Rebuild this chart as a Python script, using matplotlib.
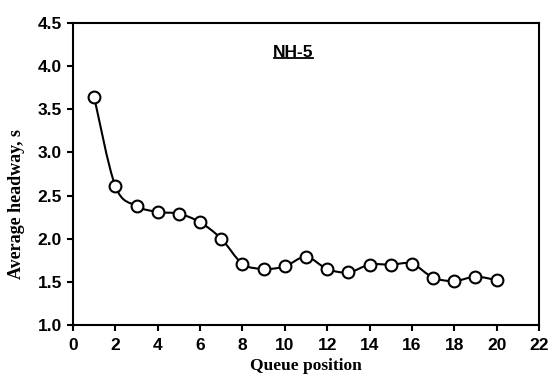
import matplotlib
matplotlib.use('Agg')
import matplotlib.pyplot as plt
from matplotlib.path import Path
from matplotlib.patches import PathPatch
import numpy as np

# Average headway per queue position, NH-5
queue_pos = [1, 2, 3, 4, 5, 6, 7, 8, 9, 10, 11, 12, 13, 14, 15, 16, 17, 18, 19, 20]
headway = [3.64, 2.61, 2.38, 2.31, 2.29, 2.19, 2.00, 1.71, 1.65, 1.68,
           1.79, 1.65, 1.61, 1.70, 1.70, 1.71, 1.55, 1.51, 1.56, 1.52]
xticks = [0, 2, 4, 6, 8, 10, 12, 14, 16, 18, 20, 22]
yticks = [1.0, 1.5, 2.0, 2.5, 3.0, 3.5, 4.0, 4.5]

fig = plt.figure(figsize=(5.5, 3.76), dpi=100)
ax = fig.add_axes([0.1327, 0.1356, 0.8473, 0.8032])

# smoothed line (Excel style) drawn as cubic bezier through the data points
x = np.array(queue_pos, dtype=float)
y = np.array(headway, dtype=float)
verts = [(x[0], y[0])]
codes = [Path.MOVETO]
t = 1 / 6
for i in range(len(x) - 1):
    x0, y0 = (x[i - 1], y[i - 1]) if i > 0 else (x[i], y[i])
    x3, y3 = (x[i + 2], y[i + 2]) if i + 2 < len(x) else (x[i + 1], y[i + 1])
    c1 = (x[i] + (x[i + 1] - x0) * t, y[i] + (y[i + 1] - y0) * t)
    c2 = (x[i + 1] - (x3 - x[i]) * t, y[i + 1] - (y3 - y[i]) * t)
    verts += [c1, c2, (x[i + 1], y[i + 1])]
    codes += [Path.CURVE4] * 3
ax.add_patch(PathPatch(Path(verts, codes), facecolor='none', edgecolor='black', lw=1.5, zorder=2))

ax.plot(queue_pos, headway, linestyle='none', marker='o', markersize=8.5,
        markerfacecolor='white', markeredgecolor='black', markeredgewidth=1.5, zorder=3)

ax.set_xlim(0, 22)
ax.set_ylim(1.0, 4.5)
ax.set_xticks(xticks)
ax.set_yticks(yticks)
ax.set_yticklabels([f'{v:.1f}' for v in yticks])
for lab in ax.get_xticklabels() + ax.get_yticklabels():
    lab.set_fontfamily('Liberation Sans')
    lab.set_fontweight('bold')
    lab.set_fontsize(12.5)
ax.tick_params(direction='out', length=4, width=1.5, pad=4)
ax.tick_params(axis='x', pad=5)
for s in ax.spines.values():
    s.set_linewidth(1.5)

ax.set_xlabel('Queue position', fontfamily='Liberation Serif', fontweight='bold', fontsize=12.5, labelpad=4)
ax.set_ylabel('Average headway, s', fontfamily='Liberation Serif', fontweight='bold', fontsize=13)
ax.yaxis.set_label_coords(-0.103, 0.40)

title = ax.text(0.473, 0.902, 'NH-5', transform=ax.transAxes, ha='center', va='center',
                fontfamily='Liberation Sans', fontweight='bold', fontsize=12.5)
fig.canvas.draw()
bb = title.get_window_extent().transformed(ax.transAxes.inverted())
ax.plot([bb.x0 + 0.002, bb.x1 - 0.002], [bb.y0 + 0.006, bb.y0 + 0.006], transform=ax.transAxes,
        color='black', lw=1.3, clip_on=False)

fig.savefig('out.png', dpi=100)
